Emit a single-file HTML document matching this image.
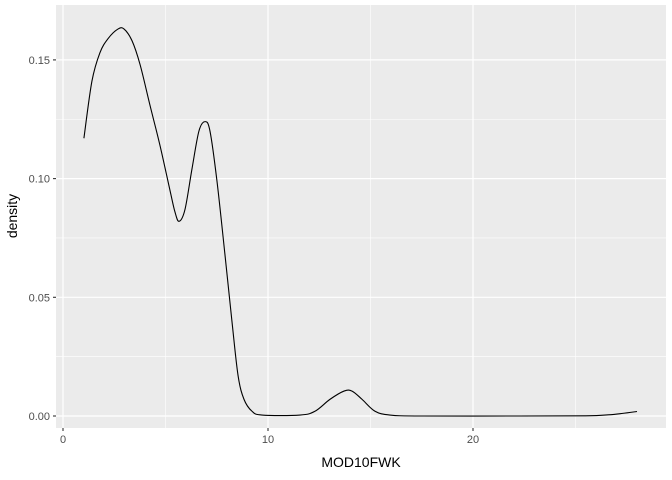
<!DOCTYPE html>
<html><head><meta charset="utf-8"><style>
body{margin:0;background:#fff;}
svg{display:block;font-family:"Liberation Sans",Arial,sans-serif;}
</style></head><body>
<svg width="672" height="480">
<rect x="56" y="5" width="610" height="423" fill="#EBEBEB"/>
<g id="grid"></g>
<path id="curve" fill="none" stroke="#000" stroke-width="1.1"/>
<g id="axes"></g>
<text x="361" y="467" text-anchor="middle" font-size="14" fill="#000">MOD10FWK</text>
<text transform="translate(17,216) rotate(-90)" text-anchor="middle" font-size="14" fill="#000">density</text>
</svg>
<script>
const xTicks=[0,10,20];
const xMinor=[5,15,25];
const yTicks=[0,0.05,0.10,0.15];
const yTickLabels=["0.00","0.05","0.10","0.15"];
const yMinor=[0.025,0.075,0.125];
const xs=[1.02,1.41,1.80,2.20,2.68,2.98,3.37,3.76,4.24,4.73,5.22,5.46,5.66,5.95,6.29,6.63,6.93,7.17,7.51,7.90,8.24,8.54,8.83,9.22,9.71,11.56,12.29,13.02,13.71,14.1,14.59,15.22,15.95,17.4,22.0,25.5,26.6,27.3,28.0];
const ys=[0.117,0.141,0.153,0.159,0.163,0.163,0.158,0.148,0.131,0.114,0.095,0.086,0.082,0.087,0.104,0.120,0.124,0.120,0.099,0.068,0.040,0.017,0.007,0.002,0.0004,0.0004,0.002,0.007,0.0105,0.0105,0.007,0.002,0.0004,0,0,0.0001,0.0005,0.0011,0.0019];
const X=v=>63+v*20.5, Y=v=>416-v*2374;
const NS="http://www.w3.org/2000/svg";
const grid=document.getElementById('grid'), axes=document.getElementById('axes');
function ln(p,x1,y1,x2,y2,c,w){const l=document.createElementNS(NS,'line');l.setAttribute('x1',x1);l.setAttribute('y1',y1);l.setAttribute('x2',x2);l.setAttribute('y2',y2);l.setAttribute('stroke',c);l.setAttribute('stroke-width',w);p.appendChild(l);return l;}
function tx(p,x,y,s,a){const t=document.createElementNS(NS,'text');t.setAttribute('x',x);t.setAttribute('y',y);t.setAttribute('text-anchor',a);t.setAttribute('font-size','11');t.setAttribute('fill','#4D4D4D');t.textContent=s;p.appendChild(t);return t;}
xMinor.forEach(v=>{const l=ln(grid,X(v),5,X(v),428,'#fff',0.6);

});
yMinor.forEach(v=>{const l=ln(grid,56,Y(v),666,Y(v),'#fff',0.6);

});
xTicks.forEach(v=>{const l=ln(grid,X(v),5,X(v),428,'#fff',1.2);


const k=ln(axes,X(v),428,X(v),431,'#333',1.1);


const t=tx(axes,X(v),443,String(v),'middle');

});
yTicks.forEach((v,i)=>{const l=ln(grid,56,Y(v),666,Y(v),'#fff',1.2);


const k=ln(axes,53,Y(v),56,Y(v),'#333',1.1);


const t=tx(axes,50,Y(v)+4,yTickLabels[i],'end');

});
const P=xs.map((x,i)=>[X(x),Y(ys[i])]);
let d='M'+P[0][0]+','+P[0][1];
for(let i=0;i<P.length-1;i++){const p0=P[i-1]||P[i],p1=P[i],p2=P[i+1],p3=P[i+2]||p2;
d+=' C'+(p1[0]+(p2[0]-p0[0])/6)+','+(p1[1]+(p2[1]-p0[1])/6)+' '+(p2[0]-(p3[0]-p1[0])/6)+','+(p2[1]-(p3[1]-p1[1])/6)+' '+p2[0]+','+p2[1];}
document.getElementById('curve').setAttribute('d',d);
</script>
</body></html>
